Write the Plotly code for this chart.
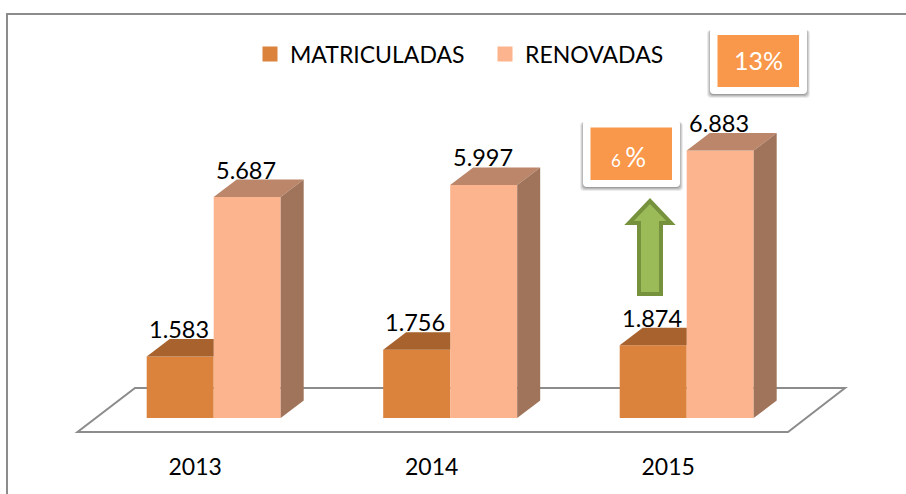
import plotly.graph_objects as go

categories = ["2013", "2014", "2015"]
matriculadas = [1583, 1756, 1874]
renovadas = [5687, 5997, 6883]
labels_m = ["1.583", "1.756", "1.874"]
labels_r = ["5.687", "5.997", "6.883"]

FONT = "Lato"
W, H = 906, 494
B = 54  # bottom margin
X0, XS = 213.7, 236.5      # px of first group centre, px per category
Y0, YS = 418.0, 0.03886    # px of baseline, px per value unit
BW = 67.0 / XS             # bar width in category units
DX, DY = 23.0 / XS, 17.5 / YS  # depth offset of the 3D faces
COL_M, COL_R = "#DB823C", "#FBB48E"

def dx(px):
    return (px - X0) / XS

def dy(py):
    return (Y0 - py) / YS

xs = list(range(len(categories)))
fig = go.Figure()
fig.add_bar(x=xs, y=matriculadas, name="MATRICULADAS", marker=dict(color=COL_M, line_width=0),
            width=BW, offset=-BW, hoverinfo="skip", showlegend=False)
fig.add_bar(x=xs, y=renovadas, name="RENOVADAS", marker=dict(color=COL_R, line_width=0),
            width=BW, offset=0, hoverinfo="skip", showlegend=False)

def face(px, py, color):
    fig.add_scatter(x=px, y=py, mode="lines", fill="toself", fillcolor=color,
                    line=dict(width=0, color=color), showlegend=False, hoverinfo="skip")

for i, (m, r) in enumerate(zip(matriculadas, renovadas)):
    # top of the orange bar, cut where the peach bar starts
    face([i - BW, i, i, i - BW + DX, i - BW], [m, m, m + DY, m + DY, m], "#A7622D")
    # top and side of the peach bar
    face([i, i + BW, i + BW + DX, i + DX, i], [r, r, r + DY, r + DY, r], "#BC866A")
    face([i + BW, i + BW + DX, i + BW + DX, i + BW, i + BW], [0, DY, r + DY, r, 0], "#A0745A")

# legend entries with the square swatches of the reference
for nm, col in (("MATRICULADAS", COL_M), ("RENOVADAS", COL_R)):
    fig.add_scatter(x=[None], y=[None], mode="markers", name=nm,
                    marker=dict(symbol="square", size=15, color=col), hoverinfo="skip")

def text_at(x, v, s):
    fig.add_annotation(x=x, y=v, text=s, showarrow=False, yanchor="middle", yshift=27.5,
                       font=dict(family=FONT, size=23.5, color="black"))

for i in xs:
    text_at(i - BW / 2 - 1.5 / XS, matriculadas[i], labels_m[i])
    text_at(i + BW / 2 - 1 / XS, renovadas[i], labels_r[i])

def poly(points):
    return "M" + " L".join(f"{dx(a)},{dy(b)}" for a, b in points) + " Z"

def rrect(x0, y0, x1, y1, r):
    a, b, c, d = dx(x0), dx(x1), dy(y0), dy(y1)
    rx, ry = r / XS, r / YS
    return (f"M{a+rx},{c} L{b-rx},{c} Q{b},{c} {b},{c-ry} L{b},{d+ry} Q{b},{d} {b-rx},{d} "
            f"L{a+rx},{d} Q{a},{d} {a},{d+ry} L{a},{c-ry} Q{a},{c} {a+rx},{c} Z")

shapes = []
# frame
shapes.append(dict(type="line", xref="x", yref="y", x0=dx(6), x1=dx(906), y0=dy(14), y1=dy(14),
                   line=dict(color="#8C8C8C", width=2), layer="below"))
shapes.append(dict(type="line", xref="paper", yref="y", x0=7.0 / W, x1=7.0 / W, y0=dy(14), y1=dy(440),
                   line=dict(color="#8C8C8C", width=2), layer="below"))
shapes.append(dict(type="line", xref="paper", yref="paper", x0=7.0 / W, x1=7.0 / W, y0=0, y1=-B / (H - B),
                   line=dict(color="#8C8C8C", width=2), layer="below"))
# floor
shapes.append(dict(type="path", xref="x", yref="y",
                   path=poly([(77.5, 432), (788, 432), (845, 388), (135, 388)]),
                   line=dict(color="#8C8C8C", width=2), fillcolor="white", layer="below"))

def callout(x0, y0, x1, y1, ix0, iy0, ix1, iy1):
    for k, op in ((4, 0.10), (3, 0.14), (2, 0.18), (1, 0.22)):
        shapes.append(dict(type="path", xref="x", yref="y",
                           path=rrect(x0 - k + 1, y0 + 2, x1 + k - 1, y1 + k, 4),
                           fillcolor="#404040", opacity=op, line_width=0))
    shapes.append(dict(type="path", xref="x", yref="y", path=rrect(x0, y0, x1, y1, 4),
                       fillcolor="white", line_width=0))
    shapes.append(dict(type="path", xref="x", yref="y",
                       path=poly([(ix0, iy0), (ix1, iy0), (ix1, iy1), (ix0, iy1)]),
                       fillcolor="#F9984A", line_width=0))

callout(710, 28, 807, 94, 717.5, 35, 799, 87)
callout(583, 120, 680, 187, 590.5, 127.5, 672, 180)
# growth arrow
shapes.append(dict(type="path", xref="x", yref="y",
                   path=poly([(650, 201), (671, 223), (661, 223), (661, 294), (639, 294),
                              (639, 223), (629, 223)]),
                   fillcolor="#9BBB59", line=dict(color="#76923C", width=4)))

fig.add_annotation(x=dx(758.5), y=dy(60), text="13%", showarrow=False,
                   font=dict(family=FONT, size=25, color="white"))
fig.add_annotation(x=dx(628), y=dy(157), text="<span style='font-size:17px'>6 </span>%", showarrow=False,
                   font=dict(family=FONT, size=26, color="white"))

fig.update_layout(
    width=W, height=H, autosize=False,
    margin=dict(l=0, r=0, t=0, b=B, pad=0),
    paper_bgcolor="white", plot_bgcolor="white",
    barmode="overlay", shapes=shapes,
    showlegend=True,
    legend=dict(orientation="h", x=250 / W, xanchor="left", y=(H - B - 54) / (H - B), yanchor="middle",
                font=dict(family=FONT, size=23, color="black"), bgcolor="rgba(0,0,0,0)",
                traceorder="normal", entrywidth=190, entrywidthmode="pixels", itemclick=False, itemsizing="trace"),
    xaxis=dict(range=[dx(0), dx(W)], tickvals=[x - 18.5 / XS for x in xs], ticktext=categories,
               showgrid=False, zeroline=False, showline=False, ticks="outside", ticklen=6,
               tickcolor="rgba(0,0,0,0)", tickfont=dict(family=FONT, size=23, color="black"), fixedrange=True),
    yaxis=dict(range=[dy(H - B), dy(0)], visible=False, fixedrange=True),
)
fig.write_html("out.html", post_script="document.body.style.margin='0';",
               config=dict(displayModeBar=False))
